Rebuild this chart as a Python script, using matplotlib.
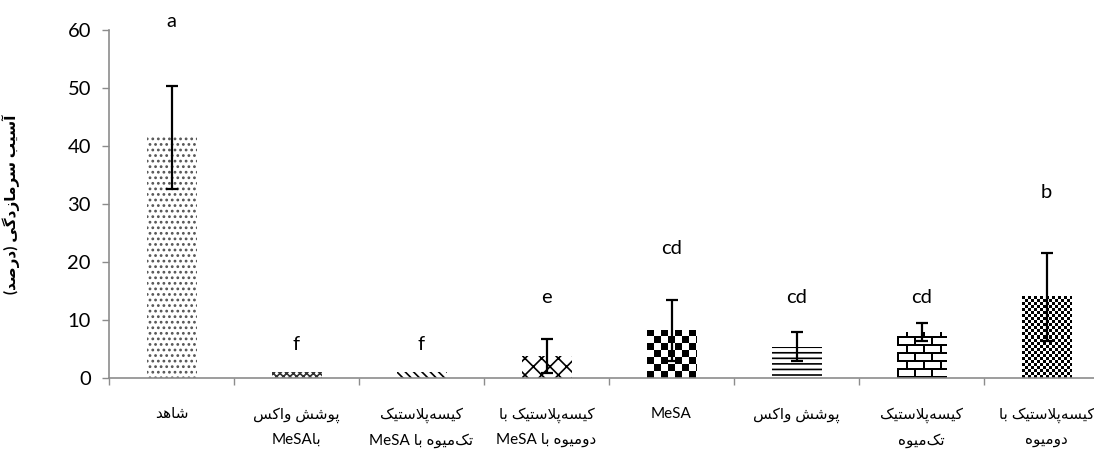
"""
Chilling injury bar chart (Persian labels), hatched bars with error bars and letter groups.
"""
import re
import numpy as np
import matplotlib.pyplot as plt

# data
groups = [
    "شاهد",
    "پوشش واکس\nباMeSA",
    "کیسه‌پلاستیک\nتک‌میوه با MeSA",
    "کیسه‌پلاستیک با\nدومیوه با MeSA",
    "MeSA",
    "پوشش واکس",
    "کیسه‌پلاستیک\nتک‌میوه",
    "کیسه‌پلاستیک با\nدومیوه",
]
damage = [41.5, 1.0, 1.0, 3.8, 8.2, 5.4, 7.9, 14.0]
sd = [8.9, 0.0, 0.0, 3.0, 5.2, 2.5, 1.5, 7.6]
letters = ["a", "f", "f", "e", "cd", "cd", "cd", "b"]
y_label = "آسیب سرمازدگی (درصد)"
y_ticks = [0, 10, 20, 30, 40, 50, 60]

# --- minimal Persian shaping (matplotlib has no complex text layout) ---
FORMS = {  # isolated, final, initial, medial
    "ا": ("\ufe8d", "\ufe8e", None, None),
    "آ": ("\ufe81", "\ufe82", None, None),
    "ب": ("\ufe8f", "\ufe90", "\ufe91", "\ufe92"),
    "پ": ("\ufb56", "\ufb57", "\ufb58", "\ufb59"),
    "ت": ("\ufe95", "\ufe96", "\ufe97", "\ufe98"),
    "د": ("\ufea9", "\ufeaa", None, None),
    "ر": ("\ufead", "\ufeae", None, None),
    "ز": ("\ufeaf", "\ufeb0", None, None),
    "س": ("\ufeb1", "\ufeb2", "\ufeb3", "\ufeb4"),
    "ش": ("\ufeb5", "\ufeb6", "\ufeb7", "\ufeb8"),
    "ص": ("\ufeb9", "\ufeba", "\ufebb", "\ufebc"),
    "ک": ("\ufb8e", "\ufb8f", "\ufb90", "\ufb91"),
    "گ": ("\ufb92", "\ufb93", "\ufb94", "\ufb95"),
    "ل": ("\ufedd", "\ufede", "\ufedf", "\ufee0"),
    "م": ("\ufee1", "\ufee2", "\ufee3", "\ufee4"),
    "و": ("\ufeed", "\ufeee", None, None),
    "ه": ("\ufee9", "\ufeea", "\ufeeb", "\ufeec"),
    "ی": ("\ufbfc", "\ufbfd", "\ufbfe", "\ufbff"),
}
DUAL = {c for c, f in FORMS.items() if f[2] is not None}


def shape_rtl(s):
    out = []
    i = 0
    while i < len(s):
        c = s[i]
        if c == "\u200c":
            i += 1
            continue
        if c not in FORMS:
            out.append({"(": ")", ")": "("}.get(c, c))
            i += 1
            continue
        prev_j = i > 0 and s[i - 1] in DUAL
        if c == "ل" and i + 1 < len(s) and s[i + 1] in "اآ":
            if s[i + 1] == "ا":
                out.append("\ufefc" if prev_j else "\ufefb")
            else:
                out.append("\ufef6" if prev_j else "\ufef5")
            i += 2
            continue
        next_j = c in DUAL and i + 1 < len(s) and s[i + 1] in FORMS
        iso, fin, ini, med = FORMS[c]
        if prev_j and next_j:
            out.append(med)
        elif prev_j:
            out.append(fin)
        elif next_j:
            out.append(ini)
        else:
            out.append(iso)
        i += 1
    return "".join(reversed(out))


def visual(text):
    lines = []
    for line in text.split("\n"):
        runs = re.split(r"([A-Za-z]+)", line)
        runs = [r if re.fullmatch(r"[A-Za-z]+", r) else shape_rtl(r) for r in runs if r]
        lines.append("".join(reversed(runs)))
    return "\n".join(lines)


FAM = ["Lato", "DejaVu Sans"]
GRAY = "#8c8c8c"

fig = plt.figure(figsize=(10.94, 4.54), dpi=100)
ax = fig.add_axes([109 / 1094, 76 / 454, 1000 / 1094, 348 / 454])

x = np.arange(len(groups))
ax.set_xlim(-0.5, len(groups) - 0.5)
ax.set_ylim(0, 60)

# hatch for bars 0-3 and 5, pixel patterns for the others
hatches = ["...", "xxxxx", "\\\\\\\\", "xx", None, "---", None, None]
hatch_colors = ["#555555", "#333333", "black", "black", "black", "black", "black", "black"]
plt.rcParams["hatch.linewidth"] = 1.2
bars = []
for i in range(len(groups)):
    b = ax.bar(x[i], damage[i], width=0.4, color="white", edgecolor=hatch_colors[i],
               linewidth=0, hatch=hatches[i], zorder=2)[0]
    bars.append(b)


def pattern_fill(bar, kind):
    bb = bar.get_window_extent()
    w, h = int(round(bb.width)), int(round(bb.height))
    yy, xx = np.mgrid[0:h, 0:w]
    if kind == "checker_big":
        img = (xx // 7 + yy // 7) % 2
    elif kind == "checker_small":
        img = (xx // 3 + yy // 3) % 2
    else:  # brick
        row = yy // 8
        horiz = (yy % 8) < 2
        vert = ((xx + (row % 2) * 8) % 17) < 2
        img = np.where(horiz | vert, 0, 1)
    x0 = bar.get_x()
    ax.imshow(img, extent=(x0, x0 + bar.get_width(), 0, bar.get_height()), origin="lower",
              cmap="gray", vmin=0, vmax=1, interpolation="nearest", aspect="auto", zorder=2.5)


pattern_fill(bars[4], "checker_big")
pattern_fill(bars[6], "brick")
pattern_fill(bars[7], "checker_small")

for i in range(len(groups)):
    if sd[i] > 0:
        ax.errorbar(x[i], damage[i], yerr=sd[i], fmt="none", ecolor="black",
                    elinewidth=1.6, capsize=4.5, capthick=1.6, zorder=4)

# group letters, placed as in the reference
letter_pos = [61.4, 5.7, 5.7, 13.8, 22.4, 13.8, 13.8, 31.9]
for i, t in enumerate(letters):
    ax.text(x[i], letter_pos[i], t, ha="center", va="center", fontsize=14.5,
            family=FAM, clip_on=False)

ax.set_xlim(-0.5, len(groups) - 0.5)
ax.set_ylim(0, 60)
ax.set_yticks(y_ticks)
ax.set_xticks(x)
ax.set_xticklabels([visual(g) for g in groups], family=FAM, fontsize=11, linespacing=1.9,
                   va="top")
ax.set_xticks(np.arange(-0.5, len(groups), 1.0), minor=True)
ax.tick_params(axis="x", which="major", length=0, pad=21)
ax.tick_params(axis="x", which="minor", length=5, color=GRAY, width=1)
ax.tick_params(axis="y", length=5, color=GRAY, width=1, labelsize=14.5, pad=8)
for lab in ax.get_yticklabels():
    lab.set_family(FAM)

for s in ["top", "right"]:
    ax.spines[s].set_visible(False)
for s in ["left", "bottom"]:
    ax.spines[s].set_color(GRAY)
    ax.spines[s].set_linewidth(1.2)

ax.set_ylabel(visual(y_label), family=FAM, fontsize=11, fontweight="bold")
ax.yaxis.set_label_coords(-0.089, 0.5)

fig.savefig("out.png", dpi=100)
